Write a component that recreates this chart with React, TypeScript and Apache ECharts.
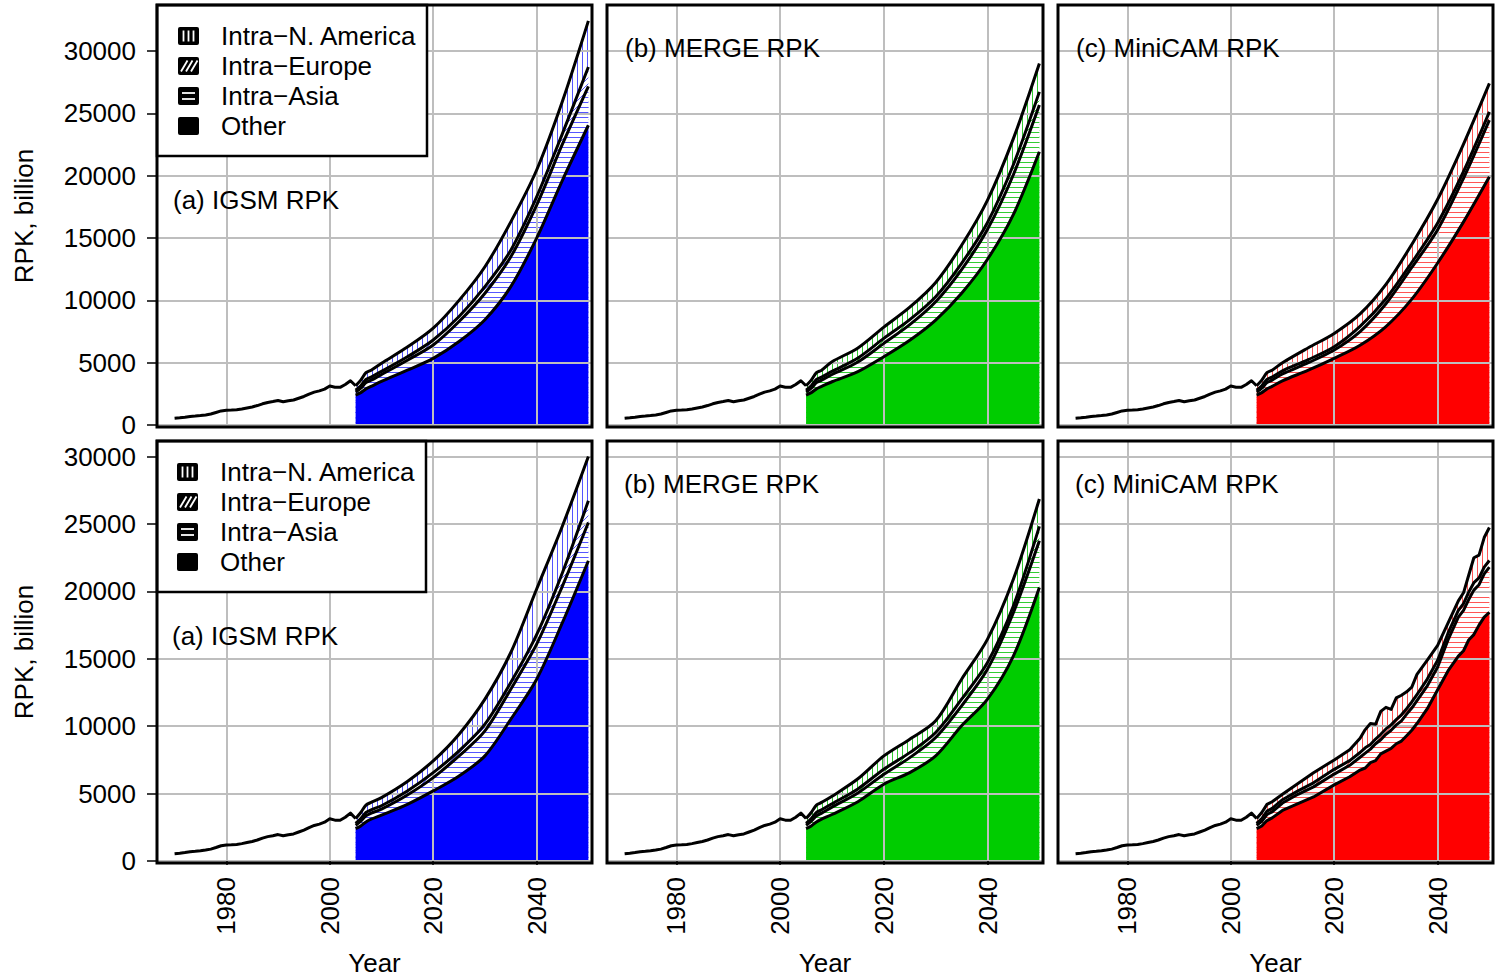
import React, { useEffect, useRef } from 'react';
import * as echarts from 'echarts';

// ---------------- DATA ----------------
const histYears = [1970, 1971, 1972, 1973, 1974, 1975, 1976, 1977, 1978, 1979, 1980, 1981, 1982, 1983, 1984, 1985, 1986, 1987, 1988, 1989, 1990, 1991, 1992, 1993, 1994, 1995, 1996, 1997, 1998, 1999, 2000, 2001, 2002, 2003, 2004, 2005];
const histRPK = [540, 580, 630, 690, 720, 760, 810, 880, 1000, 1130, 1180, 1200, 1230, 1290, 1370, 1450, 1560, 1700, 1810, 1880, 1960, 1870, 1950, 2010, 2150, 2290, 2480, 2640, 2740, 2880, 3130, 3030, 3020, 3250, 3550, 3150];

const projYears = [2005, 2006, 2007, 2008, 2010, 2015, 2020, 2025, 2030, 2035, 2040, 2045, 2050];

// (a) IGSM, top row
const igsmTopOther = [2400, 2600, 2900, 3100, 3500, 4400, 5350, 6700, 8450, 11100, 15000, 19650, 24050];
const igsmTopAsia = [250, 350, 500, 500, 550, 800, 1070, 1600, 2120, 2400, 2650, 2900, 3130];
const igsmTopEurope = [150, 200, 250, 250, 250, 270, 400, 400, 530, 530, 660, 850, 1550];
const igsmTopNA = [350, 450, 550, 550, 650, 780, 950, 1300, 1600, 2270, 2150, 2600, 3700];

// (b) MERGE, top row
const mergeTopOther = [2400, 2600, 2900, 3100, 3470, 4280, 5480, 6800, 8420, 10570, 13300, 16900, 21920];
const mergeTopAsia = [250, 350, 500, 500, 580, 780, 1070, 1250, 1470, 1900, 2400, 3200, 3750];
const mergeTopEurope = [150, 200, 250, 250, 250, 320, 400, 400, 400, 500, 550, 800, 1060];
const mergeTopNA = [350, 450, 550, 550, 780, 800, 900, 1000, 1150, 1450, 1800, 2100, 2280];

// (c) MiniCAM, top row
const minicamTopOther = [2400, 2600, 2900, 3100, 3550, 4400, 5350, 6400, 7900, 10100, 13000, 16300, 19920];
const minicamTopAsia = [250, 350, 500, 500, 550, 600, 670, 1100, 1830, 2540, 2670, 3500, 4540];
const minicamTopEurope = [150, 200, 250, 250, 250, 250, 260, 410, 400, 400, 540, 540, 670];
const minicamTopNA = [350, 450, 550, 550, 650, 950, 1070, 1000, 1150, 1450, 1900, 2200, 2280];

// (a) IGSM, bottom row
const igsmBotOther = [2400, 2600, 2900, 3100, 3400, 4200, 5200, 6310, 7800, 10520, 13490, 17700, 22280];
const igsmBotAsia = [250, 350, 450, 450, 450, 700, 990, 1490, 1850, 2230, 2600, 2720, 2840];
const igsmBotEurope = [150, 200, 250, 250, 250, 300, 370, 370, 500, 490, 700, 990, 1610];
const igsmBotNA = [350, 450, 550, 550, 600, 700, 870, 1240, 1860, 2230, 3390, 3470, 3290];

// (b) MERGE, bottom row
const mergeBotOther = [2400, 2600, 2900, 3100, 3450, 4400, 5700, 6560, 7800, 10030, 12010, 15220, 20300];
const mergeBotAsia = [250, 350, 450, 450, 550, 650, 740, 1110, 1360, 1480, 2230, 3220, 3460];
const mergeBotEurope = [150, 200, 250, 250, 250, 300, 370, 370, 370, 500, 490, 500, 1070];
const mergeBotNA = [350, 450, 550, 550, 550, 750, 990, 1000, 870, 1480, 1730, 1980, 2030];

// (c) MiniCAM, bottom row (irregular)
const minicamBotYears = [2005, 2006, 2007, 2008, 2010, 2013, 2016, 2020, 2023, 2025, 2026, 2027, 2028, 2029, 2030, 2031, 2032, 2033, 2034, 2035, 2036, 2038, 2040, 2042, 2044, 2045, 2046, 2047, 2048, 2049, 2050];
const minicamBotOther = [2400, 2600, 3000, 3200, 3750, 4250, 4750, 5650, 6250, 6750, 6900, 7300, 7450, 7950, 8150, 8350, 8700, 8900, 9300, 9700, 10200, 11300, 12700, 14100, 15200, 15600, 16400, 16800, 17500, 18100, 18440];
const minicamBotAsia = [250, 350, 450, 450, 550, 700, 750, 800, 850, 950, 1100, 1000, 1250, 1050, 1250, 1350, 1400, 1500, 1600, 1650, 1700, 1700, 1700, 2300, 2900, 3000, 3000, 3300, 3000, 3200, 3360];
const minicamBotEurope = [150, 200, 250, 250, 250, 250, 300, 350, 350, 350, 400, 350, 350, 400, 400, 400, 400, 450, 400, 450, 450, 500, 500, 500, 500, 500, 550, 550, 500, 500, 500];
const minicamBotNA = [350, 450, 500, 500, 400, 550, 750, 700, 800, 1050, 1350, 1550, 1100, 1700, 1600, 1150, 1600, 1450, 1250, 1100, 1500, 1400, 1100, 750, 700, 800, 1250, 1850, 1700, 2200, 2450];

const yTickValues = [0, 5000, 10000, 15000, 20000, 25000, 30000];
const xTickValues = [1980, 2000, 2020, 2040];
const legendLabels = ['Intra\u2212N. America', 'Intra\u2212Europe', 'Intra\u2212Asia', 'Other'];
const panelTitles = ['(a) IGSM RPK', '(b) MERGE RPK', '(c) MiniCAM RPK'];
const modelColors = ['#0000FF', '#00CC00', '#FF0000'];
const hatchColors = ['#5555ff', '#33cc33', '#ff5555'];

// ---------------- LAYOUT ----------------
const FONT = 'Liberation Sans, Arial, Helvetica, sans-serif';
const FS = 26;
const colLeft = [157, 607, 1058];
const colWidth = [435, 436, 435];
const rowTop = [5, 441];
const panelH = 422;
const yExtent = [[-160, 33700], [-148, 31164]];
const xMin = 1966.6;
const xMax = 2050.7;

const panels = [
  { row: 0, col: 0, years: projYears, other: igsmTopOther, asia: igsmTopAsia, europe: igsmTopEurope, na: igsmTopNA, smooth: true },
  { row: 0, col: 1, years: projYears, other: mergeTopOther, asia: mergeTopAsia, europe: mergeTopEurope, na: mergeTopNA, smooth: true },
  { row: 0, col: 2, years: projYears, other: minicamTopOther, asia: minicamTopAsia, europe: minicamTopEurope, na: minicamTopNA, smooth: true },
  { row: 1, col: 0, years: projYears, other: igsmBotOther, asia: igsmBotAsia, europe: igsmBotEurope, na: igsmBotNA, smooth: true },
  { row: 1, col: 1, years: projYears, other: mergeBotOther, asia: mergeBotAsia, europe: mergeBotEurope, na: mergeBotNA, smooth: true },
  { row: 1, col: 2, years: minicamBotYears, other: minicamBotOther, asia: minicamBotAsia, europe: minicamBotEurope, na: minicamBotNA, smooth: false },
];

// hatch tile as an SVG data URL (vertical, horizontal or diagonal lines)
function makePattern(color: string, kind: 'h' | 'v' | 'd') {
  const size = kind === 'd' ? 6 : 5;
  let body = '';
  if (kind === 'v') body = `<rect x="2" y="0" width="1" height="${size}" fill="${color}"/>`;
  else if (kind === 'h') body = `<rect x="0" y="2" width="${size}" height="1" fill="${color}"/>`;
  else body = `<path d="M-1 7 L7 -1 M-1 1 L1 -1 M5 7 L7 5" stroke="${color}" stroke-width="1"/>`;
  const svg = `<svg xmlns="http://www.w3.org/2000/svg" width="${size}" height="${size}"><rect width="${size}" height="${size}" fill="#ffffff"/>${body}</svg>`;
  return {
    image: 'data:image/svg+xml;charset=utf-8,' + encodeURIComponent(svg),
    repeat: 'repeat',
    imageWidth: size,
    imageHeight: size,
  };
}

function legendElements(top: number, symX: number, textX: number, boxW: number) {
  const els: any[] = [];
  els.push({
    type: 'rect',
    shape: { x: 157, y: top, width: boxW, height: 151 },
    style: { fill: '#fff', stroke: '#000', lineWidth: 2.5 },
    z: 20,
  });
  legendLabels.forEach((lab, k) => {
    const cy = top + 31 + k * 30;
    els.push({
      type: 'rect',
      shape: { x: symX, y: cy - 9, width: 21, height: 18, r: 2 },
      style: { fill: '#000' },
      z: 21,
    });
    if (k === 0) {
      for (let m = 0; m < 3; m++) {
        const x = symX + 5.5 + m * 5;
        els.push({ type: 'line', shape: { x1: x, y1: cy - 5.5, x2: x, y2: cy + 5.5 }, style: { stroke: '#fff', lineWidth: 1.8 }, z: 22 });
      }
    } else if (k === 1) {
      for (let m = 0; m < 3; m++) {
        const x1 = symX + 3 + m * 5;
        els.push({ type: 'line', shape: { x1: x1, y1: cy + 5.5, x2: x1 + 6.5, y2: cy - 5.5 }, style: { stroke: '#fff', lineWidth: 1.8 }, z: 22 });
      }
    } else if (k === 2) {
      for (let m = 0; m < 2; m++) {
        const y = cy - 3 + m * 6;
        els.push({ type: 'line', shape: { x1: symX + 4, y1: y, x2: symX + 17, y2: y }, style: { stroke: '#fff', lineWidth: 1.8 }, z: 22 });
      }
    }
    els.push({
      type: 'text',
      x: textX,
      y: cy,
      style: { text: lab, fill: '#000', fontSize: FS, fontFamily: FONT, textAlign: 'left', textVerticalAlign: 'middle' },
      z: 22,
    });
  });
  return els;
}

function cumulate(layers: number[][]) {
  const out: number[][] = [];
  let run = layers[0].map(() => 0);
  layers.forEach((l) => {
    run = run.map((v, j) => v + l[j]);
    out.push(run.slice());
  });
  return out;
}

function buildOption() {
  const grids: any[] = [];
  const xAxes: any[] = [];
  const yAxes: any[] = [];
  const series: any[] = [];
  const elements: any[] = [];

  panels.forEach((p, i) => {
    const color = modelColors[p.col];
    const hc = hatchColors[p.col];
    grids.push({ left: colLeft[p.col], top: rowTop[p.row], width: colWidth[p.col], height: panelH, show: false });
    const bottomRow = p.row === 1;
    const leftCol = p.col === 0;
    xAxes.push({
      gridIndex: i,
      type: 'value',
      min: xMin,
      max: xMax,
      z: 2,
      axisLine: { show: false },
      axisTick: bottomRow
        ? { show: true, length: 4, customValues: xTickValues, lineStyle: { color: '#000', width: 1.5 } }
        : { show: false },
      axisLabel: bottomRow
        ? { show: true, rotate: 90, margin: 14, customValues: xTickValues, fontSize: FS, fontFamily: FONT, color: '#000', formatter: (v: number) => String(v) }
        : { show: false },
      splitLine: { show: true, lineStyle: { color: '#bebebe', width: 2 } },
    });
    yAxes.push({
      gridIndex: i,
      type: 'value',
      min: yExtent[p.row][0],
      max: yExtent[p.row][1],
      z: 2,
      axisLine: { show: false },
      axisTick: leftCol
        ? { show: true, length: 10, customValues: yTickValues, lineStyle: { color: '#000', width: 1.5 } }
        : { show: false },
      axisLabel: leftCol
        ? { show: true, margin: 21, customValues: yTickValues, fontSize: FS, fontFamily: FONT, color: '#000', formatter: (v: number) => String(v) }
        : { show: false },
      splitLine: { show: true, lineStyle: { color: '#bebebe', width: 2 } },
    });

    // cumulative boundaries: [other, +asia, +europe, +na]
    const cum = cumulate([p.other, p.asia, p.europe, p.na]);
    const fills: any[] = [color, makePattern(hc, 'h'), makePattern(hc, 'd'), makePattern(hc, 'v')];
    const sm = p.smooth ? 0.3 : false;
    // fills drawn from the top layer downward so each lower layer covers the one above
    for (let k = 3; k >= 0; k--) {
      const data = p.years.map((y, j) => [y, cum[k][j]]);
      series.push({
        type: 'line',
        xAxisIndex: i,
        yAxisIndex: i,
        data,
        smooth: sm,
        showSymbol: false,
        symbol: 'none',
        silent: true,
        lineStyle: { width: 0, opacity: 0 },
        areaStyle: { color: fills[k], opacity: 1, origin: 0 },
        z: 1,
      });
    }
    for (let k = 0; k < 4; k++) {
      const data = p.years.map((y, j) => [y, cum[k][j]]);
      series.push({
        type: 'line',
        xAxisIndex: i,
        yAxisIndex: i,
        data,
        smooth: sm,
        showSymbol: false,
        symbol: 'none',
        silent: true,
        lineStyle: { color: '#000', width: 3, join: 'round' },
        z: 3,
      });
    }
    series.push({
      type: 'line',
      xAxisIndex: i,
      yAxisIndex: i,
      data: histYears.map((y, j) => [y, histRPK[j]]),
      showSymbol: false,
      symbol: 'none',
      silent: true,
      lineStyle: { color: '#000', width: 3, join: 'round' },
      z: 3,
    });

    // panel border
    elements.push({
      type: 'rect',
      shape: { x: colLeft[p.col], y: rowTop[p.row], width: colWidth[p.col], height: panelH },
      style: { fill: 'none', stroke: '#000', lineWidth: 3 },
      z: 30,
    });
  });

  // panel titles
  const titlePos = [
    [[173, 200], [625, 47.5], [1076, 47.5]],
    [[172, 636], [624, 483.5], [1075, 483.5]],
  ];
  [0, 1].forEach((r) => {
    [0, 1, 2].forEach((c) => {
      elements.push({
        type: 'text',
        x: titlePos[r][c][0],
        y: titlePos[r][c][1],
        style: { text: panelTitles[c], fill: '#000', fontSize: FS, fontFamily: FONT, textAlign: 'left', textVerticalAlign: 'middle' },
        z: 15,
      });
    });
  });

  // y axis titles
  [216, 652].forEach((cy) => {
    elements.push({
      type: 'text',
      x: 24,
      y: cy,
      rotation: Math.PI / 2,
      style: { text: 'RPK, billion', fill: '#000', fontSize: FS, fontFamily: FONT, textAlign: 'center', textVerticalAlign: 'middle' },
      z: 15,
    });
  });

  // x axis titles
  [0, 1, 2].forEach((c) => {
    elements.push({
      type: 'text',
      x: colLeft[c] + colWidth[c] / 2,
      y: 963,
      style: { text: 'Year', fill: '#000', fontSize: FS, fontFamily: FONT, textAlign: 'center', textVerticalAlign: 'middle' },
      z: 15,
    });
  });

  // legends
  elements.push(...legendElements(5, 178, 221, 270));
  elements.push(...legendElements(441, 177, 220, 269));

  return {
    animation: false,
    backgroundColor: '#ffffff',
    grid: grids,
    xAxis: xAxes,
    yAxis: yAxes,
    series,
    graphic: elements,
  };
}

export default function App() {
  const ref = useRef<HTMLDivElement>(null);
  useEffect(() => {
    if (!ref.current) return;
    const chart = echarts.init(ref.current, null, { renderer: 'svg' });
    chart.setOption(buildOption() as any);
    return () => {
      chart.dispose();
    };
  }, []);
  return (
    <div
      ref={ref}
      style={{ position: 'absolute', left: 0, top: 0, width: 1497, height: 977, background: '#fff' }}
    />
  );
}
